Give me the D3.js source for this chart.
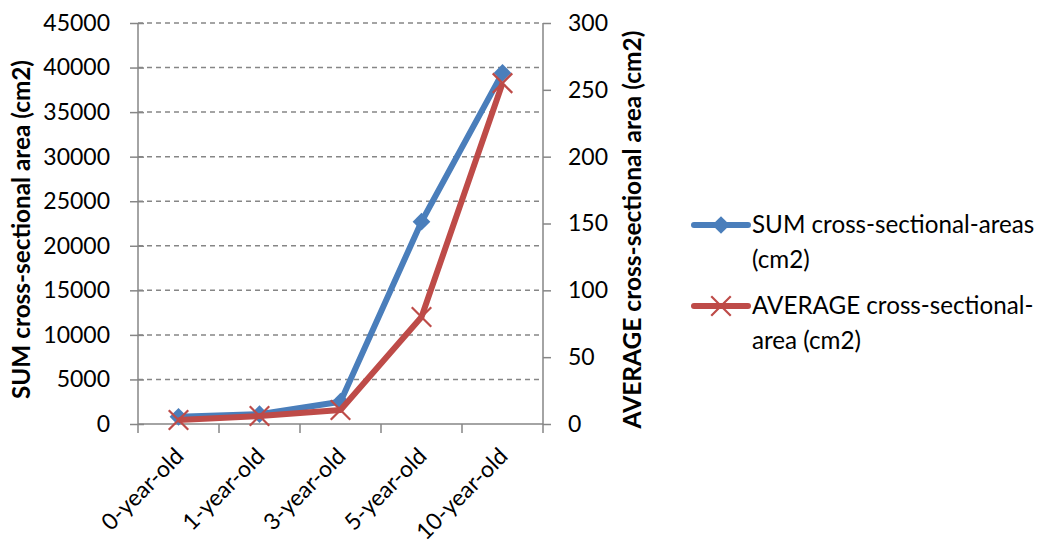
<!DOCTYPE html>
<html><head><meta charset="utf-8">
<script src="https://cdn.jsdelivr.net/npm/d3@7"></script>
<style>body{margin:0;background:#fff;} svg{display:block;font-family:Lato,"Open Sans",sans-serif;}</style>
</head><body><svg id="c" width="1038" height="544"></svg>
<script>
const categories = ["0-year-old","1-year-old","3-year-old","5-year-old","10-year-old"];
const sumValues = [800, 1100, 2500, 22700, 39400];
const avgValues = [3, 6, 10.5, 80, 255];
const leftTicks = [0,5000,10000,15000,20000,25000,30000,35000,40000,45000];
const rightTicks = [0,50,100,150,200,250,300];
const seriesNames = ["SUM cross-sectional-areas (cm2)","AVERAGE cross-sectional-area (cm2)"];

const svg = d3.select("#c");
const L=138, R=543, T=23, B=424;
const x = d3.scaleBand().domain(categories).range([L,R]);
const yL = d3.scaleLinear().domain([0,45000]).range([B,T]);
const yR = d3.scaleLinear().domain([0,300]).range([B,T]);
const gray="#868686", blue="#4A7EBB", red="#BE4B48";
const fs=23;

// gridlines
svg.append("g").selectAll("line").data(leftTicks.filter(d=>d>0)).join("line")
  .attr("x1",L).attr("x2",R).attr("y1",d=>yL(d)).attr("y2",d=>yL(d))
  .attr("stroke",gray).attr("stroke-width",1.5).attr("stroke-dasharray","5,4");

// left axis
const gl = svg.append("g").attr("transform",`translate(${L},0)`)
  .call(d3.axisLeft(yL).tickValues(leftTicks).tickSize(8).tickPadding(20).tickFormat(d3.format("d")));
gl.selectAll(".tick line").attr("x2",-8).attr("x1",6);
// right axis
const gr = svg.append("g").attr("transform",`translate(${R},0)`)
  .call(d3.axisRight(yR).tickValues(rightTicks).tickSize(8).tickPadding(17).tickFormat(d3.format("d")));
// bottom axis
const gb = svg.append("g").attr("transform",`translate(0,${B})`)
  .call(d3.axisBottom(x).tickSize(0).tickPadding(0));
gb.selectAll(".tick text").attr("text-anchor","end")
  .attr("transform","translate(1,28) rotate(-45)").attr("dy","0.35em");
// category tick marks at band edges
svg.append("g").selectAll("line").data(categories.concat(["__end"])).join("line")
  .attr("x1",(d,i)=>L+i*x.step()).attr("x2",(d,i)=>L+i*x.step())
  .attr("y1",B).attr("y2",B+9).attr("stroke",gray).attr("stroke-width",1.5);

[gl,gr,gb].forEach(g=>{
  g.select(".domain").attr("stroke",gray).attr("stroke-width",1.5);
  g.selectAll(".tick line").attr("stroke",gray).attr("stroke-width",1.5);
  g.selectAll(".tick text").attr("font-size",fs).attr("fill","#000").attr("font-family","Lato,'Open Sans',sans-serif");
});
gb.select(".domain").attr("d",`M${L},0H${R}`);
gr.select(".domain").attr("d",`M0,${T}V${B}`);
gl.select(".domain").attr("d",`M0,${T}V${B}`);

// axis titles
svg.append("text").attr("transform",`translate(30,${(T+B)/2+6}) rotate(-90)`)
  .attr("text-anchor","middle").attr("font-size",24.3).attr("font-weight","bold").text("SUM cross-sectional area (cm2)");
svg.append("text").attr("transform",`translate(641,${(T+B)/2+6}) rotate(-90)`)
  .attr("text-anchor","middle").attr("font-size",24.5).attr("font-weight","bold").text("AVERAGE cross-sectional area (cm2)");

const cx = d=>x(d)+x.bandwidth()/2;
const lineL = d3.line().x((d,i)=>cx(categories[i])).y(d=>yL(d));
const lineR = d3.line().x((d,i)=>cx(categories[i])).y(d=>yR(d));
svg.append("path").attr("d",lineL(sumValues)).attr("fill","none").attr("stroke",blue).attr("stroke-width",6).attr("stroke-linejoin","round");
const diamond = d3.symbol().type(d3.symbolDiamond2).size(200);
svg.append("g").selectAll("path").data(sumValues).join("path")
  .attr("transform",(d,i)=>`translate(${cx(categories[i])},${yL(d)})`).attr("d",diamond).attr("fill",blue);
svg.append("path").attr("d",lineR(avgValues)).attr("fill","none").attr("stroke",red).attr("stroke-width",6).attr("stroke-linejoin","round");
const xs = d3.symbol().type(d3.symbolTimes).size(250);
svg.append("g").selectAll("path").data(avgValues).join("path")
  .attr("transform",(d,i)=>`translate(${cx(categories[i])},${yR(d)})`).attr("d",xs)
  .attr("fill","none").attr("stroke",red).attr("stroke-width",2.2);

// legend
const leg = svg.append("g");
const legItems = [
  {name:seriesNames[0], lines:["SUM cross-sectional-areas","(cm2)"], y:225, color:blue, type:"d"},
  {name:seriesNames[1], lines:["AVERAGE cross-sectional-","area (cm2)"], y:306, color:red, type:"x"}
];
legItems.forEach(it=>{
  leg.append("line").attr("x1",694).attr("x2",748).attr("y1",it.y).attr("y2",it.y)
    .attr("stroke",it.color).attr("stroke-width",6).attr("stroke-linecap","round");
  if(it.type==="d") leg.append("path").attr("transform",`translate(721,${it.y})`).attr("d",diamond).attr("fill",it.color);
  else leg.append("path").attr("transform",`translate(721,${it.y})`).attr("d",xs).attr("fill","none").attr("stroke",it.color).attr("stroke-width",2.2);
  it.lines.forEach((t,k)=>leg.append("text").attr("x",752).attr("y",it.y+k*35).attr("dy","0.35em")
    .attr("font-size",24.2).text(t));
});
</script></body></html>
